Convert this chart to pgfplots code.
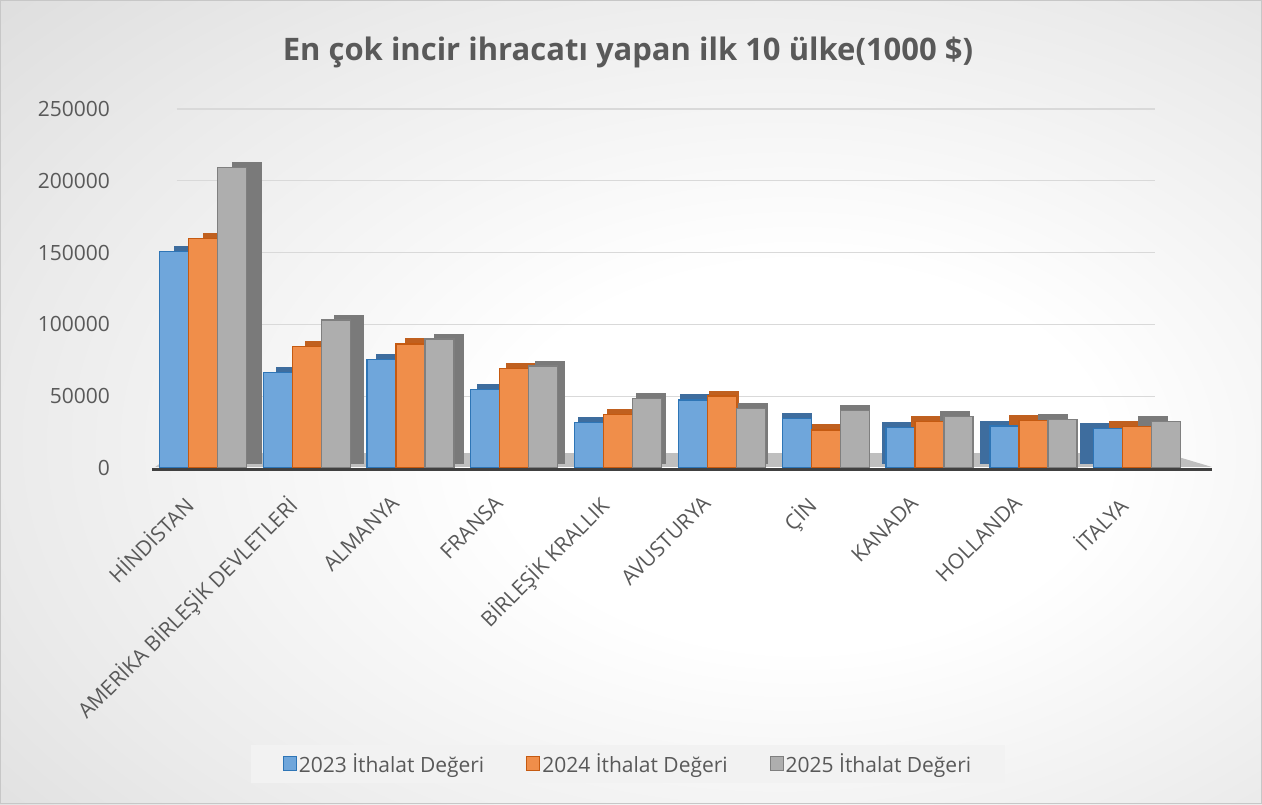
\documentclass[border=0pt]{standalone}
\usepackage{pgfplots}
\usepackage{pgfplotstable}
\pgfplotsset{compat=1.18}
\usepackage{fontspec}
\setmainfont{Open Sans}
\definecolor{txt}{HTML}{595959}
\definecolor{bfill}{HTML}{6FA6DB}
\definecolor{bedge}{HTML}{2E75B6}
\definecolor{bside}{HTML}{3E6D9E}
\definecolor{ofill}{HTML}{F08E4A}
\definecolor{oedge}{HTML}{C55A11}
\definecolor{oside}{HTML}{C0601F}
\definecolor{gfill}{HTML}{AEAEAE}
\definecolor{gedge}{HTML}{7F7F7F}
\definecolor{gside}{HTML}{7A7A7A}
\definecolor{gridc}{HTML}{D9D9D9}
\definecolor{floorc}{HTML}{BFBFBF}
\definecolor{basec}{HTML}{404040}
\pgfdeclareradialshading{bgshade}{\pgfpoint{8bp}{-4bp}}{color(0bp)=(white); color(12bp)=(white); color(30bp)=(black!8); color(52bp)=(black!19); color(80bp)=(black!21)}

% front faces
\pgfplotstableread{
x a b c
0 150600 160000 209400
1 66400 84500 103000
2 75700 86400 89800
3 54800 69200 71000
4 31600 37400 48500
5 47400 50100 41600
6 34600 26500 39900
7 28300 32300 35700
8 29200 33000 33900
9 27400 28800 32300
}\data
% depth faces: category position moved by the perspective offset
\pgfplotstableread{
x a b c
0.150 150600 160000 209400
1.125 66400 84500 103000
2.096 75700 86400 89800
3.067 54800 69200 71000
4.040 31600 37400 48500
5.020 47400 50100 41600
6.000 34600 26500 39900
6.970 28300 32300 35700
7.910 29200 33000 33900
8.870 27400 28800 32300
}\depth

\begin{document}
\begin{tikzpicture}
\shade[shading=bgshade] (0pt,0pt) rectangle (1262pt,804pt);
\draw[black!22, line width=1pt] (0.5pt,0.5pt) rectangle (1261.5pt,803.5pt);
\node[font=\bfseries\fontsize{31}{36}\selectfont, text=txt] at (628pt,752pt) {En çok incir ihracatı yapan ilk 10 ülke(1000 \$)};
\begin{axis}[
  at={(151pt,336pt)}, anchor=south west,
  width=1038pt, height=359pt, scale only axis,
  xmin=-0.5, xmax=9.5, ymin=0, ymax=250000,
  clip=false,
  ybar, bar width=29pt,
  axis line style={draw=none},
  major tick length=0pt,
  xtick={0,...,9},
  xticklabels={HİNDİSTAN, AMERİKA BİRLEŞİK DEVLETLERİ, ALMANYA, FRANSA, BİRLEŞİK KRALLIK, AVUSTURYA, ÇİN, KANADA, HOLLANDA, İTALYA},
  xticklabel style={xshift=-21pt, yshift=-26pt, rotate=45, anchor=north east, inner sep=0pt, font=\fontsize{21}{25}\selectfont, text=txt},
  ytick={0,50000,100000,150000,200000,250000},
  scaled y ticks=false,
  yticklabel style={/pgf/number format/fixed, /pgf/number format/1000 sep={}, /pgf/number format/assume math mode=true, inner sep=0pt, xshift=-41pt, font=\fontsize{21}{25}\selectfont, text=txt},
  legend columns=3,
  legend style={at={(0.4595,-0.8245)}, anchor=center, draw=none, fill=black!5, font=\fontsize{21}{25}\selectfont, text=txt, inner xsep=32pt, inner ysep=7pt, /tikz/every even column/.append style={column sep=40pt}},
  legend image code/.code={\draw[#1, line width=1pt] (0pt,-7pt) rectangle (13pt,7pt);},
]
% grid lines
\draw[gridc, line width=1.2pt] (axis cs:-0.25,50000) -- (axis cs:9.17,50000);
\draw[gridc, line width=1.2pt] (axis cs:-0.25,100000) -- (axis cs:9.17,100000);
\draw[gridc, line width=1.2pt] (axis cs:-0.25,150000) -- (axis cs:9.17,150000);
\draw[gridc, line width=1.2pt] (axis cs:-0.25,200000) -- (axis cs:9.17,200000);
\draw[gridc, line width=1.2pt] (axis cs:-0.25,250000) -- (axis cs:9.17,250000);
% floor
\fill[floorc] (axis cs:-0.46,700) -- (axis cs:9.72,700) -- (axis cs:9.27,10400) -- (axis cs:-0.27,10400) -- cycle;

% depth (side and top) faces
\addplot[forget plot, fill=bside, draw=bside, line width=1pt, bar shift=-29pt, yshift=5pt] table[x=x,y=a] {\depth};
\addplot[forget plot, fill=oside, draw=oside, line width=1pt, bar shift=0pt, yshift=5pt] table[x=x,y=b] {\depth};
\addplot[forget plot, fill=gside, draw=gside, line width=1pt, bar shift=29pt, yshift=5pt] table[x=x,y=c] {\depth};
% front faces
\addplot[fill=bfill, draw=bedge, line width=1.3pt, bar shift=-29pt] table[x=x,y=a] {\data};
\addlegendentry{2023 İthalat Değeri}
\addplot[fill=ofill, draw=oedge, line width=1.3pt, bar shift=0pt] table[x=x,y=b] {\data};
\addlegendentry{2024 İthalat Değeri}
\addplot[fill=gfill, draw=gedge, line width=1.3pt, bar shift=29pt] table[x=x,y=c] {\data};
\addlegendentry{2025 İthalat Değeri}

\draw[basec, line width=3pt] (axis cs:-0.49,-1000) -- (axis cs:9.72,-1000);
\end{axis}
\pgfresetboundingbox
\useasboundingbox (0pt,0pt) rectangle (1262pt,804pt);
\end{tikzpicture}
\end{document}
